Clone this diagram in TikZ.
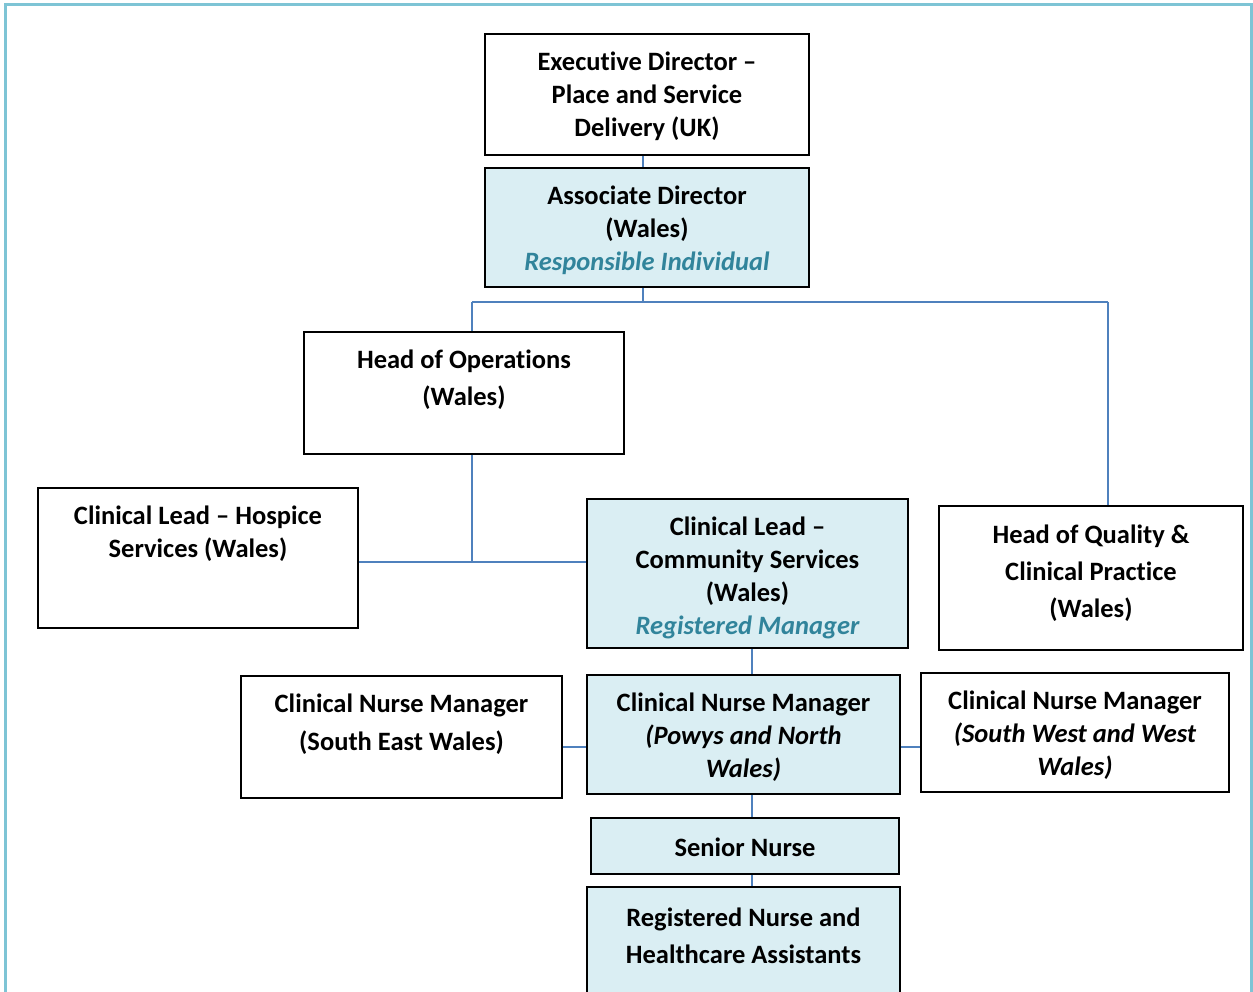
\documentclass[tikz,border=0pt]{standalone}
\usepackage{fontspec}
\setmainfont{Carlito}[RawFeature={-liga}]
\definecolor{framec}{HTML}{7EC4D5}
\definecolor{connc}{HTML}{4F81BD}
\definecolor{boxfill}{HTML}{DAEEF3}
\definecolor{tealc}{HTML}{31849B}
\tikzset{
  bx/.style={draw=black, line width=1.8pt, fill=white, inner sep=0pt},
  bxb/.style={bx, fill=boxfill},
  txt/.style={align=center, inner sep=0pt, yshift=-1.5pt, font=\fontsize{26.5}{33}\selectfont\bfseries},
  conn/.style={draw=connc, line width=1.8pt},
  framel/.style={draw=framec, line width=3pt}
}
\begin{document}
\begin{tikzpicture}[x=1pt,y=-1pt]
\useasboundingbox (0,0) rectangle (1253,992);
\draw[framel] (5,1010) -- (5,5) -- (1251,5) -- (1251,1010);

% boxes
\node[bx,  minimum width=324, minimum height=121] (exec)  at (647,94.5) {};
\node[bxb, minimum width=324, minimum height=119] (assoc) at (647,227.5) {};
\node[bx,  minimum width=320, minimum height=122] (hoo)   at (464,393) {};
\node[bx,  minimum width=320, minimum height=140] (clh)   at (198,558) {};
\node[bxb, minimum width=321, minimum height=149] (clc)   at (747.5,573.5) {};
\node[bx,  minimum width=304, minimum height=144] (hoq)   at (1091,578) {};
\node[bx,  minimum width=321, minimum height=122] (cnmse) at (401.5,737) {};
\node[bxb, minimum width=313, minimum height=119] (cnmp)  at (743.5,734.5) {};
\node[bx,  minimum width=308, minimum height=119] (cnmsw) at (1075,732.5) {};
\node[bxb, minimum width=308, minimum height=56]  (sn)    at (745,846) {};
\node[bxb, minimum width=313, minimum height=123] (rn)    at (743.5,948.5) {};

% texts
\node[txt] (texec) at (647,95) {Executive Director –\\Place and Service\\Delivery (UK)};
\node[txt] (tassoc) at (647,229) {Associate Director\\(Wales)\\\color{tealc}\itshape Responsible Individual};
\node[txt, font=\fontsize{26.5}{37}\selectfont\bfseries] (thoo) at (464,378.5) {Head of Operations\\(Wales)};
\node[txt] (tclh) at (198,532.5) {Clinical Lead – Hospice\\Services (Wales)};
\node[txt] (tclc) at (747.5,576.5) {Clinical Lead –\\Community Services\\(Wales)\\\color{tealc}\itshape Registered Manager};
\node[txt, font=\fontsize{26.5}{37}\selectfont\bfseries] (thoq) at (1091,572) {Head of Quality \&\\Clinical Practice\\(Wales)};
\node[txt, font=\fontsize{26.5}{38}\selectfont\bfseries] (tcnmse) at (401.5,723) {Clinical Nurse Manager\\(South East Wales)};
\node[txt] (tcnmp) at (743.5,736) {Clinical Nurse Manager\\\itshape (Powys and North\\\itshape Wales)};
\node[txt] (tcnmsw) at (1075,734) {Clinical Nurse Manager\\\itshape (South West and West\\\itshape Wales)};
\node[txt] (tsn) at (745,846) {Senior Nurse};
\node[txt, font=\fontsize{26.5}{37}\selectfont\bfseries] (trn) at (743.5,934.5) {Registered Nurse and\\Healthcare Assistants};

% connector coordinates
\coordinate (xa) at (643,0);
\coordinate (hl) at (472,302);
\coordinate (hr) at (1108,302);
\coordinate (xb) at (752,0);
\coordinate (j) at (472,562);
\coordinate (ym) at (0,747);

\draw[conn] (exec.south -| xa) -- (assoc.north -| xa);
\draw[conn] (assoc.south -| xa) -- (hl -| xa);
\draw[conn] (hl) -- (hr);
\draw[conn] (hl) -- (hoo.north -| hl);
\draw[conn] (hr) -- (hoq.north -| hr);
\draw[conn] (hoo.south -| j) -- (j);
\draw[conn] (clh.east |- j) -- (clc.west |- j);
\draw[conn] (clc.south -| xb) -- (cnmp.north -| xb);
\draw[conn] (cnmse.east |- ym) -- (cnmp.west |- ym);
\draw[conn] (cnmp.east |- ym) -- (cnmsw.west |- ym);
\draw[conn] (cnmp.south -| xb) -- (sn.north -| xb);
\draw[conn] (sn.south -| xb) -- (rn.north -| xb);
\end{tikzpicture}
\end{document}
